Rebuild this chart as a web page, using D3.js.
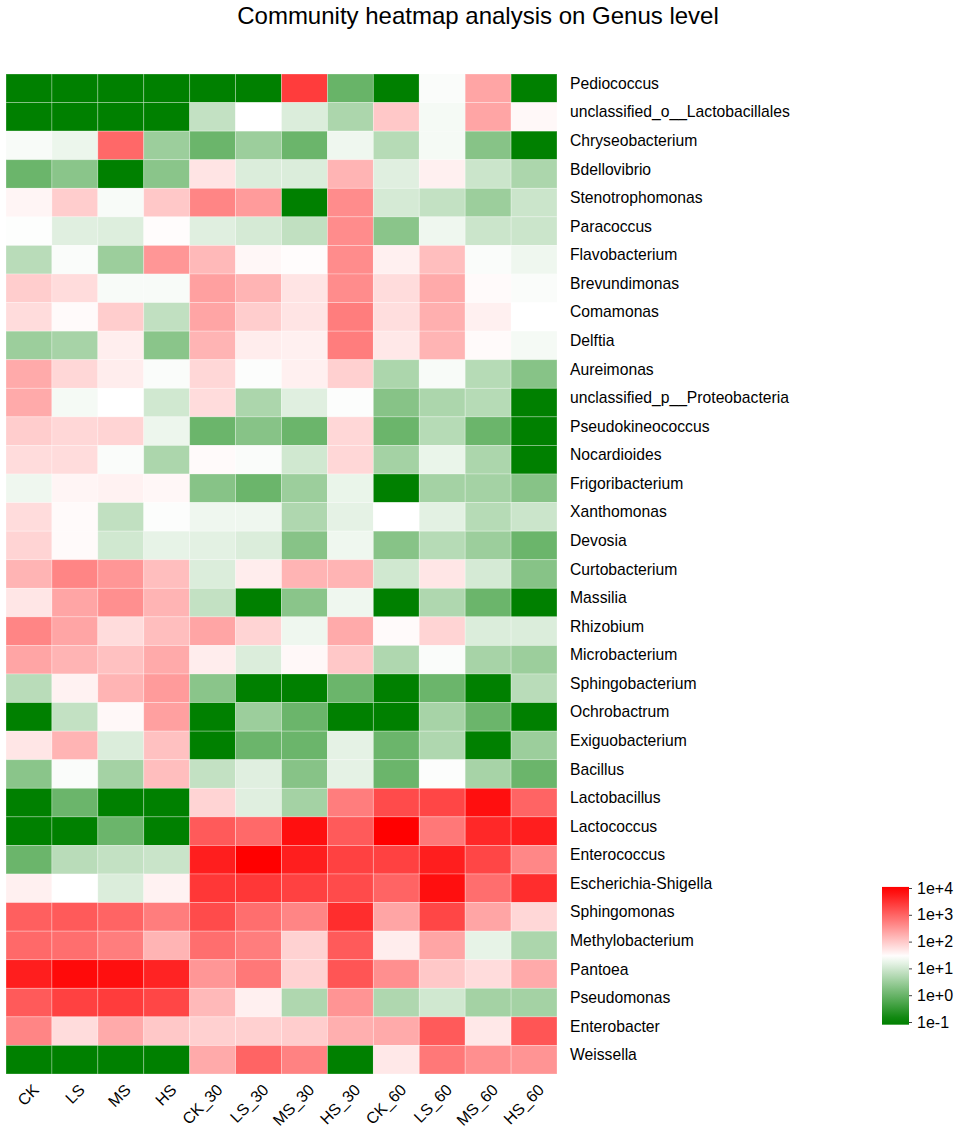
<!DOCTYPE html>
<html>
<head>
<meta charset="utf-8">
<script src="https://cdn.jsdelivr.net/npm/d3@7"></script>
<style>
  body { margin: 0; background: #fff; }
  text { font-family: "Liberation Sans", Arial, sans-serif; }
</style>
</head>
<body>
<svg id="chart" width="957" height="1137"></svg>
<script>
// ---- data (log10 of abundance) ----
const samples = ["CK","LS","MS","HS","CK_30","LS_30","MS_30","HS_30","CK_60","LS_60","MS_60","HS_60"];
const genera = ["Pediococcus","unclassified_o__Lactobacillales","Chryseobacterium","Bdellovibrio","Stenotrophomonas","Paracoccus","Flavobacterium","Brevundimonas","Comamonas","Delftia","Aureimonas","unclassified_p__Proteobacteria","Pseudokineococcus","Nocardioides","Frigoribacterium","Xanthomonas","Devosia","Curtobacterium","Massilia","Rhizobium","Microbacterium","Sphingobacterium","Ochrobactrum","Exiguobacterium","Bacillus","Lactobacillus","Lactococcus","Enterococcus","Escherichia-Shigella","Sphingomonas","Methylobacterium","Pantoea","Pseudomonas","Enterobacter","Weissella"];
const values = [
  [-1,-1,-1,-1,-1,-1,3.4,0.0,-1,1.4,2.35,-1],
  [-1,-1,-1,-1,0.87,1.45,1.1,0.65,2.0,1.35,2.35,1.52],
  [1.38,1.27,2.96,0.5,0.03,0.5,0.03,1.3,0.75,1.35,0.3,-1],
  [0.03,0.33,-1,0.33,1.72,1.1,1.1,2.2,1.15,1.6,0.95,0.65],
  [1.55,1.95,1.38,2.0,2.67,2.45,-1,2.6,1.05,0.87,0.5,0.95],
  [1.43,1.15,1.12,1.48,1.15,1.05,0.85,2.6,0.33,1.3,0.95,0.95],
  [0.78,1.4,0.5,2.5,2.15,1.53,1.48,2.6,1.6,2.1,1.4,1.3],
  [1.95,1.8,1.38,1.38,2.4,2.2,1.72,2.6,1.8,2.3,1.5,1.4],
  [1.8,1.5,1.95,0.85,2.35,1.95,1.72,2.75,1.78,2.25,1.6,1.45],
  [0.5,0.6,1.62,0.33,2.2,1.63,1.6,2.75,1.68,2.2,1.5,1.35],
  [2.3,1.85,1.63,1.4,1.85,1.42,1.6,1.92,0.65,1.38,0.75,0.3],
  [2.3,1.35,1.45,1.0,1.8,0.65,1.15,1.42,0.3,0.65,0.75,-1],
  [1.95,1.85,1.88,1.28,0.03,0.3,0.03,1.85,0.03,0.75,0.03,-1],
  [1.8,1.8,1.4,0.65,1.5,1.4,1.0,1.85,0.58,1.25,0.65,-1],
  [1.3,1.55,1.58,1.53,0.3,0.03,0.5,1.25,-1,0.58,0.58,0.3],
  [1.8,1.5,0.85,1.42,1.3,1.3,0.68,1.2,1.45,1.18,0.75,0.95],
  [1.88,1.5,1.0,1.22,1.18,1.1,0.3,1.3,0.3,0.75,0.5,0.03],
  [2.2,2.67,2.5,2.1,1.1,1.63,2.2,2.2,1.0,1.7,1.05,0.3],
  [1.7,2.35,2.57,2.2,0.87,-1,0.33,1.3,-1,0.68,0.03,-1],
  [2.67,2.35,1.8,2.1,2.35,1.88,1.3,2.3,1.5,1.88,1.1,1.1],
  [2.35,2.2,2.07,2.3,1.63,1.1,1.52,2.0,0.68,1.4,0.6,0.5],
  [0.78,1.58,2.2,2.45,0.33,-1,-1,0.03,-1,0.03,-1,0.78],
  [-1,0.87,1.52,2.4,-1,0.5,0.03,-1,-1,0.6,0.03,-1],
  [1.7,2.2,1.1,2.07,-1,0.03,0.03,1.2,0.03,0.68,-1,0.5],
  [0.33,1.4,0.58,2.1,0.87,1.15,0.3,1.2,0.03,1.42,0.6,0.03],
  [-1,0.03,-1,-1,1.88,1.15,0.58,2.75,3.25,3.3,3.85,3.0],
  [-1,-1,0.03,-1,3.1,2.95,3.85,3.1,4.0,2.8,3.6,3.7],
  [0.03,0.78,0.87,0.93,3.7,4.0,3.7,3.35,3.35,3.7,3.3,2.65],
  [1.6,1.45,1.1,1.58,3.45,3.45,3.35,3.25,3.0,3.85,2.9,3.55],
  [3.05,3.1,3.0,2.75,3.25,2.9,2.67,3.55,2.35,3.3,2.35,1.85],
  [2.95,2.9,2.75,2.2,2.9,2.75,1.9,3.1,1.63,2.35,1.22,0.65],
  [3.7,3.9,3.85,3.65,2.5,2.8,1.9,3.15,2.57,2.0,1.8,2.3],
  [3.1,3.35,3.4,3.3,2.15,1.6,0.68,2.52,0.68,1.0,0.58,0.58],
  [2.67,1.8,2.3,2.0,1.92,1.92,1.95,2.25,2.3,3.1,1.68,3.15],
  [-1,-1,-1,-1,2.3,3.0,2.7,-1,1.68,2.8,2.57,2.52]
];
const legendTicks = [-1,0,1,2,3,4];
const legendLabels = ["1e-1","1e+0","1e+1","1e+2","1e+3","1e+4"];
const colorStops = ["#008000","#ffffff","#ff0000"];
const titleText = "Community heatmap analysis on Genus level";

// ---- layout ----
const svg = d3.select("#chart");
const gridLeft = 6, gridRight = 557, gridTop = 74, gridBottom = 1074;

const x = d3.scaleBand().domain(samples).range([gridLeft, gridRight]);
const y = d3.scaleBand().domain(genera).range([gridTop, gridBottom]);
const color = d3.scaleLinear().domain([-1, 1.45, 4]).range(colorStops).clamp(true);

// title
svg.append("text")
  .attr("x", 478).attr("y", 24)
  .attr("text-anchor", "middle")
  .attr("font-size", 24)
  .attr("fill", "#000")
  .text(titleText);

// cells
const cells = [];
values.forEach((row, i) => row.forEach((v, j) => cells.push({g: genera[i], s: samples[j], v})));
svg.append("g").selectAll("rect").data(cells).join("rect")
  .attr("x", d => x(d.s))
  .attr("y", d => y(d.g))
  .attr("width", x.bandwidth())
  .attr("height", y.bandwidth())
  .attr("fill", d => color(d.v))
  .attr("stroke", "rgba(255,255,255,0.35)")
  .attr("stroke-width", 0.8);

// row labels
svg.append("g").selectAll("text").data(genera).join("text")
  .attr("x", 570)
  .attr("y", d => y(d) + y.bandwidth() / 2 - 5)
  .attr("dominant-baseline", "central")
  .attr("font-size", 15.7)
  .attr("fill", "#000")
  .text(d => d);

// column labels (rotated 45°)
svg.append("g").selectAll("text").data(samples).join("text")
  .attr("transform", d => `translate(${x(d) + x.bandwidth() / 2 + 3},${gridBottom + 9}) rotate(-45)`)
  .attr("text-anchor", "end")
  .attr("dominant-baseline", "hanging")
  .attr("font-size", 16)
  .attr("fill", "#000")
  .text(d => d);

// legend
const lg = svg.append("g");
const ly = d3.scaleLinear().domain([-1, 4]).range([1022, 888]);
const barX = 882, barW = 27;
const defs = svg.append("defs");
const grad = defs.append("linearGradient").attr("id", "lgGrad")
  .attr("x1", 0).attr("y1", 1).attr("x2", 0).attr("y2", 0);
const lMin = -1.1, lMax = 4.04;
d3.range(0, 1.0001, 0.05).forEach(t => {
  const v = lMin + t * (lMax - lMin);
  grad.append("stop").attr("offset", t).attr("stop-color", color(v));
});
lg.append("rect")
  .attr("x", barX).attr("y", ly(lMax))
  .attr("width", barW).attr("height", ly(lMin) - ly(lMax))
  .attr("fill", "url(#lgGrad)");
const lAxis = d3.axisRight(ly).tickValues(legendTicks)
  .tickFormat((d, i) => legendLabels[i]).tickSize(3).tickPadding(5);
const axG = lg.append("g").attr("transform", `translate(${barX + barW},0)`).call(lAxis);
axG.select(".domain").remove();
axG.selectAll(".tick line").attr("stroke", "#444");
axG.selectAll(".tick text")
  .attr("font-size", 16)
  .attr("font-family", "Liberation Sans, Arial, sans-serif")
  .attr("fill", "#000");
</script>
</body>
</html>
